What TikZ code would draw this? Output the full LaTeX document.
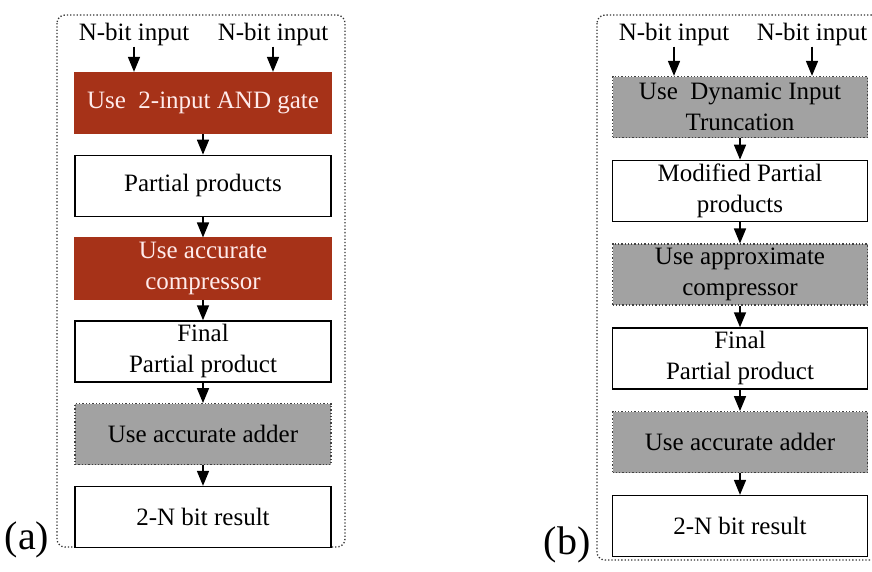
\documentclass[tikz,border=0pt]{standalone}
\usepackage{fontspec}
\setmainfont{Liberation Serif}
\usetikzlibrary{positioning,arrows.meta}
\definecolor{gatered}{RGB}{166,50,24}
\definecolor{boxgray}{RGB}{162,162,162}

\begin{document}
\begin{tikzpicture}[
    x=1pt, y=-1pt,
    node distance=20.5pt,
    every node/.style={font=\rmfamily\fontsize{25}{31}\selectfont},
    plainbox/.style={rectangle, draw=black, line width=1.3pt, fill=white, minimum width=256pt, minimum height=61pt, align=center, inner sep=1pt},
    redbox/.style={plainbox, draw=gatered, fill=gatered, text=red!8!white},
    graybox/.style={plainbox, draw=black!75, dotted, fill=boxgray},
    frame/.style={draw=black!80, dotted, line width=1.3pt, rounded corners=8pt},
    arrow/.style={-{Triangle[length=15pt,width=12pt]}, line width=1.6pt},
    tag/.style={font=\rmfamily\fontsize{40}{42}\selectfont},
]
\useasboundingbox (0,0) rectangle (872,571);
\clip (0,0) rectangle (872,571);
% panel (a)
\draw[frame] (57,15) rectangle (345,547);
\node[tag] (tagA) at (27,540) {(a)};
\node[inner sep=1pt] (inA1) at (134,34) {N-bit input};
\node[inner sep=1pt] (inA2) at (273,34) {N-bit input};
\node[redbox] (andA) at (203,103) {Use~~2-input AND gate};
\node[plainbox, below=of andA] (ppA) {Partial products};
\node[redbox, below=of ppA] (compA) {Use accurate\\compressor};
\node[plainbox, below=of compA] (fppA) {Final\\Partial product};
\node[graybox, below=of fppA] (addA) {Use accurate adder};
\node[plainbox, below=of addA] (resA) {2-N bit result};
\draw[arrow] (inA1) -- (inA1 |- andA.north);
\draw[arrow] (inA2) -- (inA2 |- andA.north);
\draw[arrow] (andA) -- (ppA);
\draw[arrow] (ppA) -- (compA);
\draw[arrow] (compA) -- (fppA);
\draw[arrow] (fppA) -- (addA);
\draw[arrow] (addA) -- (resA);
% panel (b)
\draw[frame] (597,15) rectangle (890,560);
\node[tag] (tagB) at (567,545) {(b)};
\node[inner sep=1pt] (inB1) at (674,34) {N-bit input};
\node[inner sep=1pt] (inB2) at (812,34) {N-bit input};
\node[graybox, minimum width=255pt] (truncB) at (740,107) {Use~~Dynamic Input\\Truncation};
\node[plainbox, minimum width=255pt, below=21.5pt of truncB] (ppB) {Modified Partial\\products};
\node[graybox, minimum width=255pt, below=21.5pt of ppB] (compB) {Use approximate\\compressor};
\node[plainbox, minimum width=255pt, below=21.5pt of compB] (fppB) {Final\\Partial product};
\node[graybox, minimum width=255pt, below=21.5pt of fppB] (addB) {Use accurate adder};
\node[plainbox, minimum width=255pt, below=21.5pt of addB] (resB) {2-N bit result};
\draw[arrow] (inB1) -- (inB1 |- truncB.north);
\draw[arrow] (inB2) -- (inB2 |- truncB.north);
\draw[arrow] (truncB) -- (ppB);
\draw[arrow] (ppB) -- (compB);
\draw[arrow] (compB) -- (fppB);
\draw[arrow] (fppB) -- (addB);
\draw[arrow] (addB) -- (resB);
\end{tikzpicture}
\end{document}
